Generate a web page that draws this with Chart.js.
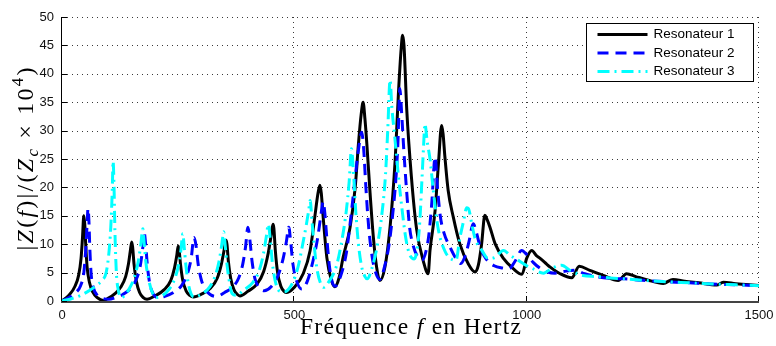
<!DOCTYPE html>
<html><head><meta charset="utf-8">
<script src="https://cdn.jsdelivr.net/npm/chart.js@4.4.0/dist/chart.umd.min.js"></script>
<style>html,body{margin:0;padding:0;background:#fff;}#wrap{width:776px;height:346px;}</style>
</head><body><div id="wrap"><canvas id="c" width="776" height="346"></canvas></div>
<script>
// ---- data: [frequency (Hz), |Z(f)|/(Zc x 1e4)] ----
const seriesNames = ['Resonateur 1', 'Resonateur 2', 'Resonateur 3'];
const xTickValues = [0, 500, 1000, 1500];
const yTickValues = [0, 5, 10, 15, 20, 25, 30, 35, 40, 45, 50];

const resonateur1 = [
[0,0],[15,1],[28,2.6],[36,4.6],[41,7.5],[44,11],[47,15],[49,13.5],[51,10],[54,6],[59,3.3],[66,1.6],[76,0.6],[89,0.1],
[100,0.5],[114,1.3],[127,2.5],[137,4.3],[143,6.5],[147,8.8],[150,10.4],[152,9.5],[155,6.5],[160,3.5],[167,1.5],[175,0.6],[183,0.3],
[200,0.9],[220,2],[234,3.6],[242,5.8],[247,8],[250,9.7],[252,9],[255,6.5],[260,3.6],[267,1.8],[275,1],[283,0.7],
[300,1.2],[320,2.3],[334,4],[343,6.5],[349,9],[353,10.7],[355,10],[358,7],[363,4],[370,2],[377,1.2],[383,0.9],
[400,1.7],[420,3],[434,5.2],[444,8.5],[450,11.5],[454,13.5],[456,12.8],[459,9],[464,5],[471,2.6],[478,1.7],[484,1.5],
[500,2.4],[519,4.8],[534,8.9],[544,14.8],[551,19],[555,20.4],[558,19],[562,14.8],[570,7.6],[580,3.6],[587,2.5],
[596,4],[605,7.7],[620,13],[631,20],[638,27.7],[644,33],[648,35],[652,32],[656,27.7],[663,19],[670,11.3],[677,6],[684,3.6],
[695,6],[706,13],[717,24.8],[724,36.5],[730,44.5],[733,46.8],[736,45],[742,33.6],[752,21.8],[763,12.7],[778,6.9],[788,4.8],
[792,8.9],[803,16],[810,24],[817,30.9],[820,29.5],[824,25.4],[831,19.5],[842,14.8],[856,10.1],[874,6.6],[889,5.1],
[896,6.3],[903,10],[910,15.1],[914,14.5],[921,13],[932,10.1],[950,7.5],[971,5.7],[990,4.7],
[1000,7.5],[1011,8.9],[1021,8],[1029,7.5],[1043,6.5],[1050,6],[1072,4.8],[1097,4.1],
[1113,6.1],[1136,5.4],[1165,4.5],[1197,3.6],[1215,4.8],[1235,4.3],[1260,3.7],[1294,3.1],
[1315,3.8],[1340,3.5],[1370,3.2],[1409,2.8],[1423,3.3],[1450,3.05],[1480,2.85],[1500,2.75]
];

const resonateur2 = [
[0,0],[15,0.6],[30,1.5],[40,2.7],[47,5],[51,9],[54,13.5],[56,16.3],[58,14],[60,9],[63,4.5],[68,2.2],[76,1],[86,0.5],[100,0.3],
[115,0.6],[130,1.1],[145,2],[158,3.5],[168,6],[174,9.5],[177,12],[180,10],[184,6],[189,3],[196,1.3],[206,0.6],
[220,0.8],[240,1.5],[258,2.8],[270,4.8],[278,7.5],[284,11.2],[288,10],[293,6.5],[299,4],[307,2.2],[318,1.2],[332,0.8],
[350,1.5],[368,2.5],[380,4],[389,6.5],[395,9.5],[400,13],[404,11],[409,7],[415,4],[423,2.5],[435,1.8],
[450,2.5],[465,4.5],[476,7.5],[483,10.5],[488,13],[492,10.5],[497,6.5],[505,3.5],[516,2.1],
[528,3.5],[540,7],[550,11],[557,15],[562,17.5],[565,16],[570,11],[575,6.5],[581,3.5],[588,2.6],
[600,4.5],[612,8.5],[622,15],[630,21],[637,26],[645,29.7],[649,27],[654,20],[660,13],[668,7.5],[676,4.8],[684,3.8],
[694,6],[704,10],[712,15.5],[719,22],[723,28],[727,37.4],[731,33],[736,26],[742,19],[748,13],[755,10],[764,8],[775,7.2],
[784,9],[790,12],[796,17.5],[803,25.4],[808,20],[814,15],[822,12],[835,9.5],[850,7.2],[858,6.6],
[868,8],[876,10.5],[885,13.6],[892,12],[900,9.5],[912,7.5],[930,6.2],[948,5.8],[962,5.7],
[975,7],[989,8.9],[1000,8.2],[1014,6.8],[1030,5.7],[1045,5.1],[1061,4.9],[1080,5.2],[1104,5.4],[1125,4.8],
[1150,4.3],[1180,4.0],[1210,3.9],[1250,3.65],[1300,3.4],[1350,3.2],[1400,3.0],[1450,2.85],[1500,2.7]
];

const resonateur3 = [
[0,0],[20,0.4],[40,1.0],[60,1.9],[75,2.8],[86,3.6],[95,5],[101,8.5],[105,13],[108,19],[110,24.6],[112,20],[114,12],[117,5],[121,2],[128,0.6],
[135,1],[145,2.2],[155,4],[163,6.5],[169,9.5],[174,12.7],[177,10],[181,6.5],[186,4],[193,1.8],[202,0.6],
[215,0.9],[230,2],[242,3.8],[250,6],[256,9],[260,11.9],[263,9.5],[267,6],[272,3],[278,1.2],[285,0.7],
[300,1.2],[318,2.5],[330,4.5],[338,7],[344,10],[348,12.2],[351,10],[355,6.5],[360,3.5],[366,1.3],[375,1],
[392,2],[410,3.2],[425,5.5],[434,8.5],[440,11.5],[444,13.5],[448,11],[453,6.5],[459,3.5],[467,1.8],[478,1.6],
[495,3],[508,6],[518,10],[526,13.5],[531,16],[534,17.7],[538,14],[543,9.5],[549,5.5],[556,3.2],[563,2.4],
[575,3.5],[590,6],[603,11],[612,16],[618,21],[623,26.8],[627,23],[632,16],[638,10],[645,6],[652,4.3],[657,3.9],
[666,5.5],[678,9.5],[688,15],[696,22],[701,30],[706,38.9],[710,34],[716,29],[724,22],[732,16],[740,11],[748,8.2],[758,7.4],
[765,9.5],[770,14],[775,22],[778,27],[781,31.2],[786,28],[792,25],[799,19.5],[809,13],[824,8.8],[840,7.3],[848,7.2],
[856,11],[864,14],[871,16.4],[876,16],[882,13.5],[889,11],[903,9],[917,7.5],
[932,7.7],[950,8.9],[965,8],[985,7],[1000,6.2],[1013,5.7],[1036,4.9],[1055,5.8],[1075,6.3],[1095,5.3],[1121,4.5],
[1150,4.3],[1180,4.05],[1220,3.85],[1250,3.65],[1300,3.4],[1350,3.2],[1400,3.0],[1450,2.85],[1500,2.7]
];

// ---- rich-text titles ----
const xTitleSegs = [{t:'Fréquence '},{t:'f',it:true},{t:' en Hertz'}];
const yTitleSegs = [{t:'|'},{t:'Z',it:true},{t:'('},{t:'f',it:true},{t:')|/('},{t:'Z',it:true},{t:'c',it:true,sub:true},{t:' × 10'},{t:'4',sup:true},{t:')'}];

function segFont(g, size){
  const s = (g.sub || g.sup) ? size*0.7 : size;
  return (g.it ? 'italic ' : '') + s.toFixed(2) + 'px "Liberation Serif", "DejaVu Serif", serif';
}
function richInfo(ctx, segs, size){
  let w = 0, n = 0;
  for (const g of segs){
    ctx.font = segFont(g,size);
    for (const ch of g.t){ w += ctx.measureText(ch).width; n++; }
  }
  return {w, n};
}
function drawRich(ctx, segs, size, ls){
  let x = 0;
  for (const g of segs){
    ctx.font = segFont(g,size);
    const dy = g.sub ? size*0.22 : (g.sup ? -size*0.42 : 0);
    for (const ch of g.t){
      ctx.fillText(ch, x, dy);
      x += ctx.measureText(ch).width + ls;
    }
  }
}
function drawFitted(ctx, segs, size, target){
  const info = richInfo(ctx, segs, size);
  const ls = Math.max(0, (target - info.w) / Math.max(1, info.n - 1));
  drawRich(ctx, segs, size, ls);
}

const toXY = arr => arr.map(p => ({x:p[0], y:p[1]}));

const gridPlugin = {
  id: 'matlabGrid',
  beforeDatasetsDraw(chart){
    const {ctx, chartArea: ca, scales:{x: xs, y: ys}} = chart;
    ctx.save();
    ctx.strokeStyle = '#3a3a3a';
    ctx.lineWidth = 1;
    ctx.setLineDash([1,4]);
    for (const v of yTickValues){
      if (v === 0) continue;
      const py = Math.round(ys.getPixelForValue(v)) + 0.5;
      ctx.beginPath(); ctx.moveTo(ca.left, py); ctx.lineTo(ca.right, py); ctx.stroke();
    }
    for (const v of xTickValues){
      if (v === 0) continue;
      const px = Math.round(xs.getPixelForValue(v)) - 0.5;
      ctx.beginPath(); ctx.moveTo(px, ca.top); ctx.lineTo(px, ca.bottom); ctx.stroke();
    }
    ctx.restore();
  },
  afterDatasetsDraw(chart){
    const {ctx, chartArea: ca, scales:{x: xs, y: ys}} = chart;
    ctx.save();
    ctx.setLineDash([]);
    ctx.strokeStyle = '#000'; ctx.lineWidth = 1;
    ctx.beginPath(); ctx.moveTo(ca.left - 0.5, ca.top); ctx.lineTo(ca.left - 0.5, ca.bottom + 1); ctx.stroke();
    ctx.strokeStyle = '#444'; ctx.lineWidth = 2;
    ctx.beginPath(); ctx.moveTo(ca.left - 1, ca.bottom + 1); ctx.lineTo(ca.right, ca.bottom + 1); ctx.stroke();
    ctx.strokeStyle = '#000'; ctx.lineWidth = 1;
    for (const v of yTickValues){
      const py = Math.round(ys.getPixelForValue(v)) + 0.5;
      ctx.beginPath(); ctx.moveTo(ca.left, py); ctx.lineTo(ca.left + 5, py); ctx.stroke();
    }
    for (const v of xTickValues){
      const px = Math.round(xs.getPixelForValue(v)) - 0.5;
      ctx.beginPath(); ctx.moveTo(px, ca.bottom); ctx.lineTo(px, ca.bottom - 5); ctx.stroke();
    }
    // legend
    const bw = 167, bh = 58;
    const bx = Math.round(ca.right - 6 - bw) + 0.5, by = Math.round(ca.top + 6) + 0.5;
    ctx.fillStyle = '#fff';
    ctx.fillRect(bx, by, bw, bh);
    ctx.strokeStyle = '#000'; ctx.lineWidth = 1;
    ctx.strokeRect(bx, by, bw, bh);
    const rows = [11, 29.5, 48];
    chart.data.datasets.forEach((ds, i) => {
      const ry = by + rows[i];
      ctx.save();
      ctx.strokeStyle = ds.borderColor; ctx.lineWidth = ds.borderWidth;
      ctx.lineCap = 'butt';
      ctx.setLineDash(ds.borderDash || []);
      ctx.beginPath(); ctx.moveTo(bx + 11, ry); ctx.lineTo(bx + 61, ry); ctx.stroke();
      ctx.restore();
      ctx.fillStyle = '#000';
      ctx.font = '13.5px "Liberation Sans", Arial, sans-serif';
      ctx.textBaseline = 'middle'; ctx.textAlign = 'left';
      ctx.fillText(ds.label, bx + 67, ry);
    });
    ctx.restore();
  },
  afterDraw(chart){
    const {ctx, chartArea: ca} = chart;
    ctx.save();
    ctx.fillStyle = '#000';
    ctx.textBaseline = 'alphabetic'; ctx.textAlign = 'left';
    ctx.save();
    ctx.translate((ca.left + ca.right)/2 - 110.5, 334);
    drawFitted(ctx, xTitleSegs, 23.5, 221);
    ctx.restore();
    ctx.save();
    ctx.translate(33, (ca.top + ca.bottom)/2 + 91.5);
    ctx.rotate(-Math.PI/2);
    drawFitted(ctx, yTitleSegs, 24, 183);
    ctx.restore();
    ctx.restore();
  }
};

const tickFont = {family: '"Liberation Sans", Arial, sans-serif', size: 13};

new Chart(document.getElementById('c'), {
  type: 'line',
  data: {
    datasets: [
      {label: seriesNames[0], data: toXY(resonateur1), borderColor: '#000000', borderWidth: 3, order: 3, borderJoinStyle: 'round'},
      {label: seriesNames[1], data: toXY(resonateur2), borderColor: '#0000ff', borderWidth: 3, borderDash: [11,7], order: 2},
      {label: seriesNames[2], data: toXY(resonateur3), borderColor: '#00ffff', borderWidth: 3, borderDash: [12,5,2,5], order: 1}
    ]
  },
  options: {
    responsive: false,
    animation: false,
    devicePixelRatio: 1,
    layout: {padding: {left: 0, right: 17, top: 17, bottom: 0}},
    elements: {point: {radius: 0}, line: {cubicInterpolationMode: 'monotone', fill: false, borderCapStyle: 'butt'}},
    plugins: {legend: {display: false}, tooltip: {enabled: false}, title: {display: false}},
    scales: {
      x: {
        type: 'linear', min: 0, max: 1500,
        afterFit: s => { s.height = 45; s.paddingLeft = 0; s.paddingRight = 0; },
        afterBuildTicks: s => { s.ticks = xTickValues.map(v => ({value: v})); },
        ticks: {font: tickFont, color: '#111', padding: 7, maxRotation: 0, autoSkip: false, callback: v => String(v)},
        grid: {display: false, drawTicks: false},
        border: {display: false}
      },
      y: {
        type: 'linear', min: 0, max: 50,
        afterFit: s => { s.width = 62; s.paddingTop = 0; s.paddingBottom = 0; },
        afterBuildTicks: s => { s.ticks = yTickValues.map(v => ({value: v})); },
        ticks: {font: tickFont, color: '#111', padding: 8, autoSkip: false, callback: v => String(v)},
        grid: {display: false, drawTicks: false},
        border: {display: false}
      }
    }
  },
  plugins: [gridPlugin]
});
</script></body></html>
